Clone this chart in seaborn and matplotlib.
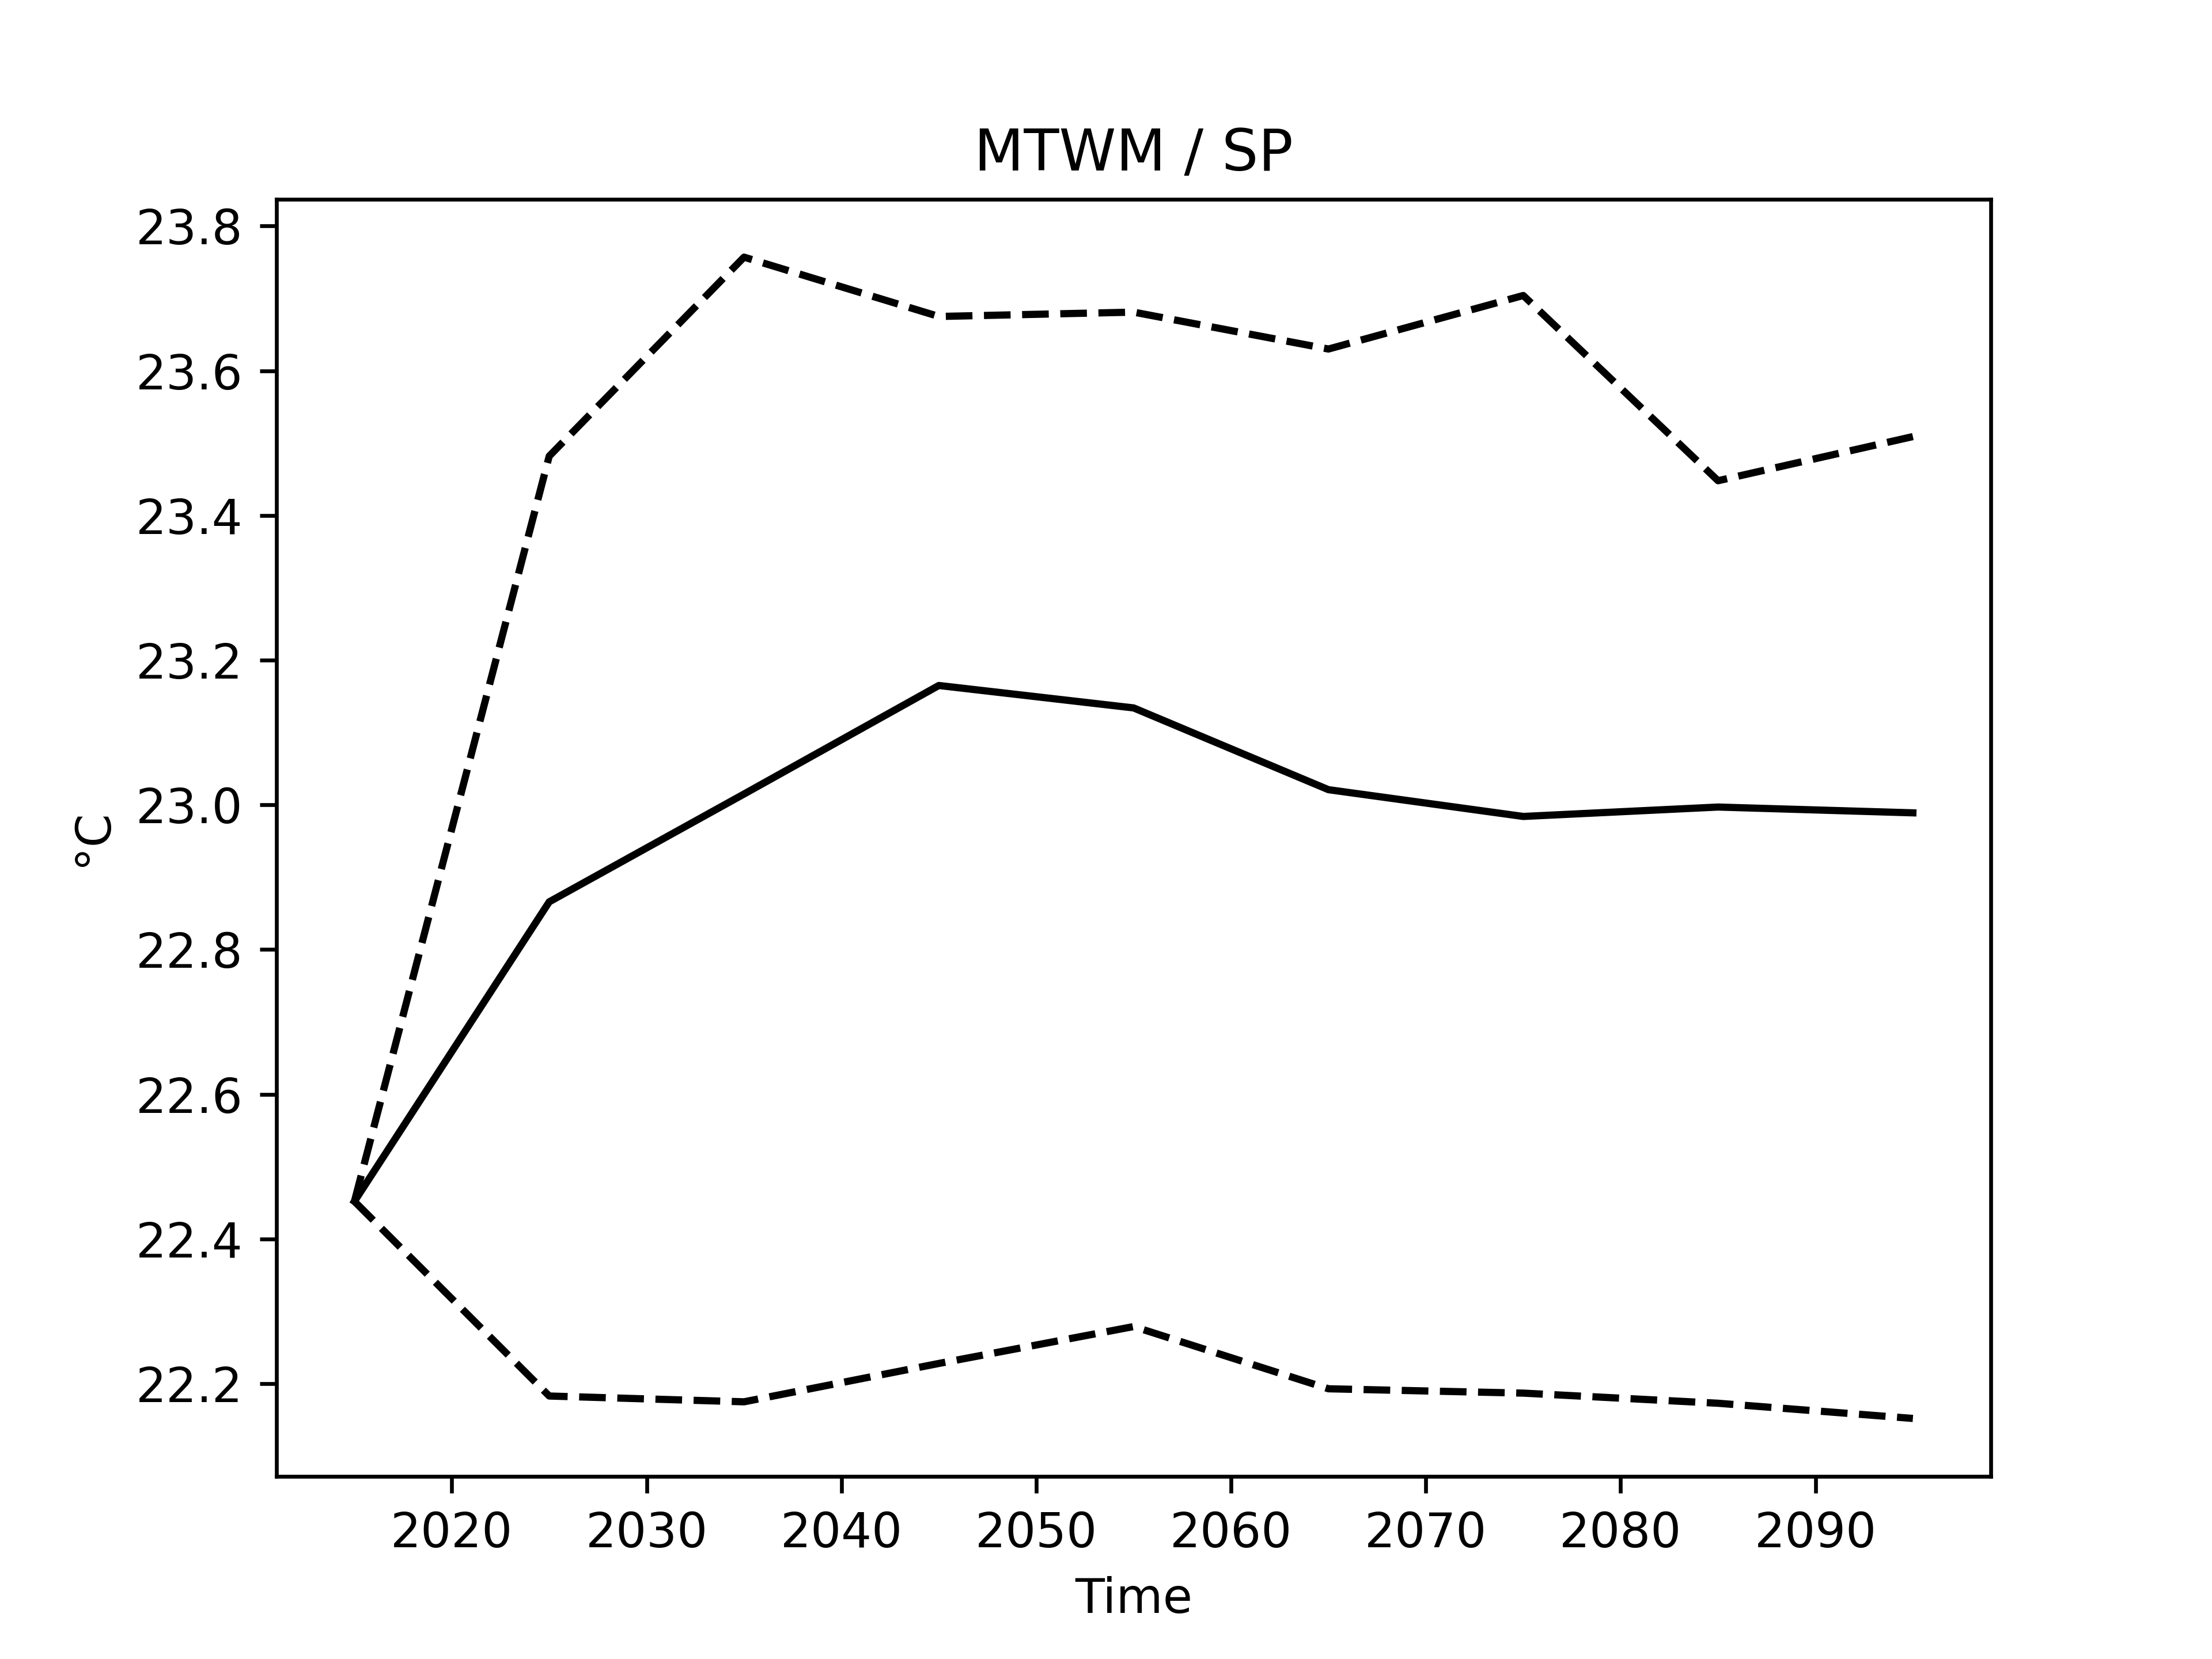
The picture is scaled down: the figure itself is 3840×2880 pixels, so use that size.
"""
MTWM / SP projection plot: ensemble mean with upper and lower bounds.
"""

import pandas as pd
import matplotlib
matplotlib.use("Agg")
import matplotlib.pyplot as plt
import seaborn as sns


YEARS: list[int] = [2015, 2025, 2035, 2045, 2055, 2065, 2075, 2085, 2095]

MEAN_VALUES: list[float] = [
    22.452, 22.866, 23.015, 23.165, 23.134, 23.021, 22.984, 22.997, 22.989
]

UPPER_VALUES: list[float] = [
    22.452, 23.482, 23.757, 23.675, 23.681, 23.630, 23.704, 23.448, 23.509
]

LOWER_VALUES: list[float] = [
    22.452, 22.183, 22.175, 22.228, 22.279, 22.193, 22.187, 22.173, 22.152
]


def build_dataframe() -> pd.DataFrame:
    """
    Combine the series into one table.
    """
    return pd.DataFrame(
        {
            "Time": YEARS,
            "mean": MEAN_VALUES,
            "upper": UPPER_VALUES,
            "lower": LOWER_VALUES,
        }
    )


def main() -> None:
    dataframe = build_dataframe()

    # default matplotlib size, saved at high dpi
    fig, ax = plt.subplots(figsize=(6.4, 4.8))

    sns.lineplot(data=dataframe, x="Time", y="mean", color="black", ax=ax)
    sns.lineplot(data=dataframe, x="Time", y="upper", color="black",
                 linestyle="--", ax=ax)
    sns.lineplot(data=dataframe, x="Time", y="lower", color="black",
                 linestyle="--", ax=ax)

    ax.set_title("MTWM / SP")
    ax.set_xlabel("Time")
    ax.set_ylabel("°C")

    fig.savefig("out.png", dpi=600)


if __name__ == "__main__":
    main()
